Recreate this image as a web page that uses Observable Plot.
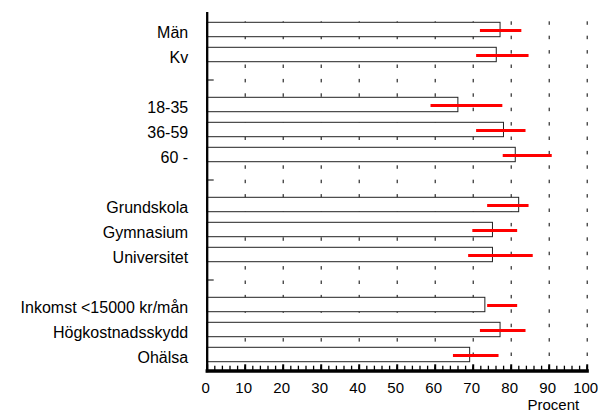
<!DOCTYPE html>
<html>
<head>
<meta charset="utf-8">
<script src="https://cdn.jsdelivr.net/npm/d3@7"></script>
<script src="https://cdn.jsdelivr.net/npm/@observablehq/plot@0.6"></script>
<style>
  body { margin: 0; background: #fff; }
  svg { font-family: "Liberation Sans", Arial, sans-serif; }
</style>
</head>
<body>
<div id="chart"></div>
<script>
// Row order, with blank separator rows between groups
const rows = ["Män", "Kv", " ", "18-35", "36-59", "60 -", "  ",
  "Grundskola", "Gymnasium", "Universitet", "   ",
  "Inkomst <15000 kr/mån", "Högkostnadsskydd", "Ohälsa"];
const gapRows = [" ", "  ", "   "];

const categories = ["Män", "Kv", "18-35", "36-59", "60 -",
  "Grundskola", "Gymnasium", "Universitet",
  "Inkomst <15000 kr/mån", "Högkostnadsskydd", "Ohälsa"];
const values = [77.2, 76.2, 66.1, 78.1, 81.2, 82.1, 75.2, 75.2, 73.2, 77.2, 69.2];
const lower  = [71.9, 70.9, 58.9, 70.9, 77.9, 73.8, 69.9, 68.8, 73.8, 71.9, 64.8];
const upper  = [82.8, 84.7, 77.8, 83.9, 90.8, 84.7, 81.7, 85.8, 81.7, 83.9, 76.8];

const xTicks = [0, 10, 20, 30, 40, 50, 60, 70, 80, 90, 100];
const xMinorTicks = d3.range(0, 101, 2);
const gridTicks = [10, 20, 30, 40, 50, 60, 70, 80, 90, 100];
const xLabel = "Procent";

const data = categories.map((c, i) => ({cat: c, value: values[i], lo: lower[i], hi: upper[i]}));

const chart = Plot.plot({
  width: 598,
  height: 412,
  marginLeft: 206.7,
  marginRight: 11.3,
  marginTop: 12.7,
  marginBottom: 41.5,
  style: {fontFamily: "'Liberation Sans', Arial, sans-serif", background: "#fff"},
  x: {domain: [0, 100], axis: null},
  y: {domain: rows, padding: 0, axis: null},
  marks: [
    Plot.ruleX(gridTicks, {stroke: "#000", strokeWidth: 1, strokeDasharray: "3.5,10.9", strokeDashoffset: 5.8}),
    Plot.barX(data, {x: "value", y: "cat", fill: "#fff", stroke: "#222", strokeWidth: 1, insetTop: 5.3, insetBottom: 5.3}),
    Plot.ruleY(data, {y: "cat", x1: "lo", x2: "hi", stroke: "#ff0000", strokeWidth: 3, dy: 0.5}),
    Plot.axisY({tickSize: 0, tickPadding: 19, fontSize: 16, dy: 3, letterSpacing: "-0.3px", fill: "#000", label: null}),
    Plot.axisY({ticks: gapRows, tickSize: -7, tickFormat: () => "", stroke: "#000", label: null}),
    Plot.axisX({ticks: xMinorTicks, tickSize: -4.8, tickFormat: () => "", strokeWidth: 1.3, stroke: "#000", label: null}),
    Plot.axisX({ticks: xTicks, tickSize: -6.2, tickFormat: () => "", strokeWidth: 2, stroke: "#000", label: null}),
    Plot.axisX({ticks: xTicks, tickSize: 0, tickPadding: 11, fontSize: 15, dx: -1.5, fill: "#000", label: null, letterSpacing: "-0.6px"}),
    Plot.frame({anchor: "left", stroke: "#000", strokeWidth: 2.3}),
    Plot.frame({anchor: "bottom", stroke: "#000", strokeWidth: 3.3}),
    Plot.text([xLabel], {frameAnchor: "bottom-right", lineAnchor: "middle", textAnchor: "end", dx: -8, dy: 34, fontSize: 15, fill: "#000"})
  ]
});
document.getElementById("chart").appendChild(chart);
</script>
</body>
</html>
